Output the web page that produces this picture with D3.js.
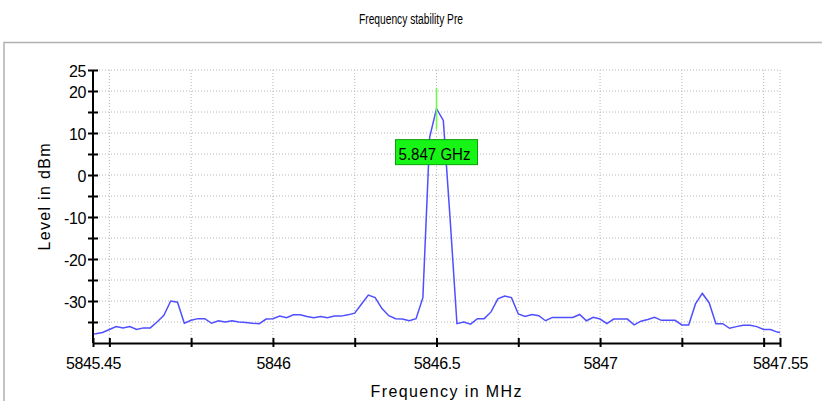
<!DOCTYPE html>
<meta charset="utf-8">

<style>
body { margin: 0; background: #fff; }
svg text { font-family: "Liberation Sans", Arial, sans-serif; fill: #000; }
.grid line { stroke: #b8b8b8; stroke-width: 1; stroke-dasharray: 1,2; }
.axis path, .axis line { stroke: #000; stroke-width: 2; }
</style>

<script src="https://d3js.org/d3.v7.min.js"></script>

<div id="my_dataviz"></div>

<script>

// sweep: first point and spacing of the analyzer trace (MHz)
var freqStart = 5845.4375,
    freqStep = 2.5 / 120;

// trace levels in dBm, one per sweep point
var levels = [
  -38.0, -37.8, -37.5, -36.8, -36.1, -36.4, -36.1, -36.8, -36.4, -36.4,
  -35.0, -33.4, -30.0, -30.3, -35.3, -34.6, -34.2, -34.2, -35.3, -34.7,
  -35.0, -34.7, -35.0, -35.1, -35.3, -35.4, -34.3, -34.2, -33.6, -34.0,
  -33.3, -33.3, -33.7, -34.0, -33.7, -34.0, -33.6, -33.6, -33.3, -32.9,
  -30.7, -28.6, -29.2, -31.8, -33.5, -34.2, -34.3, -34.7, -34.2, -29.2,
    9.0,  15.8,  13.0, -10.5, -35.4, -35.0, -35.5, -34.2, -34.2, -32.6,
  -29.5, -28.8, -29.2, -33.1, -33.7, -33.2, -33.5, -34.7, -33.9, -33.9,
  -33.9, -33.9, -33.2, -34.7, -33.9, -34.3, -35.4, -34.3, -34.3, -34.3,
  -35.7, -34.8, -34.4, -33.9, -34.6, -34.6, -34.6, -35.7, -35.7, -30.7,
  -28.2, -30.4, -35.4, -35.4, -36.5, -36.1, -35.8, -35.8, -36.1, -36.8,
  -36.8, -37.4, -37.7
];

var xDomain = [5845.45, 5847.55],
    yDomain = [-40, 25];

var xTicks = [5845.45, 5845.5, 5845.75, 5846, 5846.25, 5846.5, 5846.75, 5847, 5847.25, 5847.5, 5847.55],
    xLabels = [5845.45, 5846, 5846.5, 5847, 5847.55],
    xGrid = [5845.5, 5845.75, 5846, 5846.25, 5846.5, 5846.75, 5847, 5847.25, 5847.5, 5847.55];

var yTicks = [-35, -30, -25, -20, -15, -10, -5, 0, 5, 10, 15, 20, 25],
    yLabels = [25, 20, 10, 0, -10, -20, -30];

var markerFreq = 5846.5,
    markerText = "5.847 GHz";

var data = levels.map(function(v, i) {
    return {f: freqStart + i * freqStep, v: v};
});

var W = 822, H = 401;
var margin = {top: 70, right: 42, bottom: 58, left: 93},
    width = W - margin.left - margin.right,
    height = H - margin.top - margin.bottom;

var x = d3.scaleLinear().domain(xDomain).range([0, width]);
var y = d3.scaleLinear().domain(yDomain).range([height, 0]);

var root = d3.select("#my_dataviz")
    .append("svg")
    .attr("width", W)
    .attr("height", H);

// panel frame
root.append("rect")
    .attr("x", 4).attr("y", 42.5)
    .attr("width", 840).attr("height", 400)
    .attr("fill", "none")
    .attr("stroke", "#b0b0b0")
    .attr("stroke-width", 1.5);

root.append("text")
    .attr("x", 411).attr("y", 24)
    .attr("text-anchor", "middle")
    .attr("font-size", "14px")
    .attr("textLength", 104)
    .attr("lengthAdjust", "spacingAndGlyphs")
    .text("Frequency stability Pre");

var svg = root.append("g")
    .attr("transform", "translate(" + margin.left + "," + margin.top + ")");

// grid
var grid = svg.append("g").attr("class", "grid");
grid.selectAll("line.v")
    .data(xGrid)
    .enter().append("line")
    .attr("x1", function(d) { return x(d); })
    .attr("x2", function(d) { return x(d); })
    .attr("y1", 0).attr("y2", height);
grid.selectAll("line.h")
    .data(yTicks)
    .enter().append("line")
    .attr("x1", 0).attr("x2", width)
    .attr("y1", function(d) { return y(d); })
    .attr("y2", function(d) { return y(d); });

// trace
svg.append("clipPath").attr("id", "plotclip")
    .append("rect").attr("width", width).attr("height", height);

var line = d3.line()
    .x(function(d) { return x(d.f); })
    .y(function(d) { return y(d.v); });

svg.append("path")
    .datum(data)
    .attr("clip-path", "url(#plotclip)")
    .attr("fill", "none")
    .attr("stroke", "#4f4fff")
    .attr("stroke-width", 1.5)
    .attr("d", line);

// marker
var peak = data.reduce(function(a, b) { return b.v > a.v ? b : a; });
svg.append("line")
    .attr("x1", x(markerFreq)).attr("x2", x(markerFreq))
    .attr("y1", y(peak.v + 5)).attr("y2", y(peak.v - 5))
    .attr("stroke", "#66ff44")
    .attr("stroke-width", 1.5);

var boxW = 82, boxH = 25,
    boxX = x(markerFreq) - boxW / 2,
    boxY = y(peak.v - 5) + 10;
svg.append("rect")
    .attr("x", boxX).attr("y", boxY)
    .attr("width", boxW).attr("height", boxH)
    .attr("fill", "#16f516")
    .attr("stroke", "#0aa00a")
    .attr("stroke-width", 1);
svg.append("text")
    .attr("x", boxX + 3).attr("y", boxY + 20)
    .attr("font-size", "17px")
    .attr("textLength", 72)
    .attr("lengthAdjust", "spacingAndGlyphs")
    .text(markerText);

// axes
var xAxis = d3.axisBottom(x)
    .tickValues(xTicks)
    .tickSizeInner(4)
    .tickSizeOuter(0)
    .tickPadding(11)
    .tickFormat(function(d) { return xLabels.indexOf(d) >= 0 ? String(d) : ""; });

var yAxis = d3.axisLeft(y)
    .tickValues(yTicks)
    .tickSizeInner(5)
    .tickSizeOuter(0)
    .tickPadding(2)
    .tickFormat(function(d) { return yLabels.indexOf(d) >= 0 ? String(d) : ""; });

var gx = svg.append("g")
    .attr("class", "x axis")
    .attr("transform", "translate(0," + height + ")")
    .call(xAxis);
gx.selectAll(".tick line").attr("y1", -5).attr("y2", 4).attr("stroke-width", 1.5);
gx.selectAll("text")
    .attr("font-size", "16px")
    .attr("letter-spacing", "-0.4px")
    .attr("font-family", "Liberation Sans, Arial, sans-serif");

var gy = svg.append("g")
    .attr("class", "y axis")
    .call(yAxis);
gy.selectAll(".tick line").attr("x1", -5).attr("x2", 5).attr("stroke-width", 1.5);
gy.selectAll("text")
    .attr("font-size", "16px")
    .attr("letter-spacing", "-0.4px")
    .attr("dy", "0.4em")
    .attr("font-family", "Liberation Sans, Arial, sans-serif");
gy.select("path").attr("d", "M0," + height + "V0");

// axis titles
root.append("text")
    .attr("x", 446).attr("y", 397)
    .attr("text-anchor", "middle")
    .attr("font-size", "16px")
    .attr("textLength", 151)
    .attr("lengthAdjust", "spacing")
    .text("Frequency in MHz");

root.append("text")
    .attr("transform", "translate(50,197) rotate(-90)")
    .attr("text-anchor", "middle")
    .attr("font-size", "16px")
    .attr("textLength", 107)
    .attr("lengthAdjust", "spacing")
    .text("Level in dBm");

</script>
